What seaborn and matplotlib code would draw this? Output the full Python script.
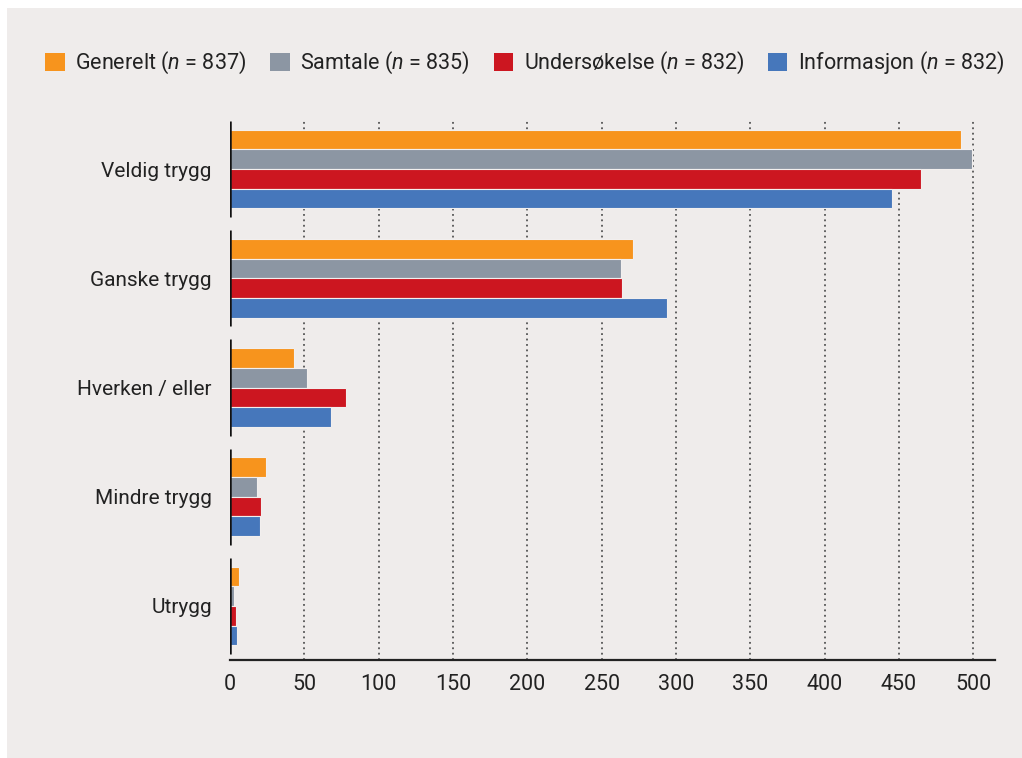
import matplotlib
matplotlib.use("Agg")
import matplotlib.pyplot as plt
from matplotlib.patches import Patch, Rectangle
import seaborn as sns
import pandas as pd

categories = ["Veldig trygg", "Ganske trygg", "Hverken / eller", "Mindre trygg", "Utrygg"]
series = ["Generelt ($n$ = 837)", "Samtale ($n$ = 835)", "Undersøkelse ($n$ = 832)", "Informasjon ($n$ = 832)"]
generelt = [492, 271, 43, 24, 6]
samtale = [499, 263, 52, 18, 3]
undersokelse = [465, 264, 78, 21, 4]
informasjon = [445, 294, 68, 20, 5]
xticks = [0, 50, 100, 150, 200, 250, 300, 350, 400, 450, 500]
colors = ["#f7941d", "#8c96a3", "#cc1620", "#4677bb"]

rows = []
for s, vals in zip(series, [generelt, samtale, undersokelse, informasjon]):
    for c, v in zip(categories, vals):
        rows.append({"kategori": c, "serie": s, "antall": v})
df = pd.DataFrame(rows)

sns.set_style("white")
plt.rcParams["font.family"] = ["Roboto", "DejaVu Sans"]
plt.rcParams["mathtext.fontset"] = "custom"
plt.rcParams["mathtext.it"] = "Roboto:italic"
plt.rcParams["mathtext.rm"] = "Roboto"

bg = "#efeceb"
fig = plt.figure(figsize=(10.22, 7.58), dpi=100, facecolor="white")
fig.patches.append(Rectangle((7 / 1022, 0), 1 - 7 / 1022, 1 - 8 / 758,
                             transform=fig.transFigure, facecolor=bg, edgecolor="none", zorder=-10))
ax = fig.add_axes([230 / 1022, 1 - 660 / 758, (995 - 230) / 1022, (660 - 120) / 758])
ax.set_facecolor(bg)

sns.barplot(data=df, y="kategori", x="antall", hue="serie", order=categories,
            hue_order=series, palette=colors, saturation=1, orient="h", width=0.72,
            edgecolor="#f2efee", linewidth=0.8, ax=ax, legend=False, zorder=3)

ax.set_xlim(0, 514.6)
ax.set_ylim(4.495, -0.45)
ax.set_xticks(xticks)
ax.set_xticklabels([str(t) for t in xticks], fontsize=15.5, color="#222222")
ax.tick_params(axis="x", length=0, pad=10)
ax.tick_params(axis="y", length=0, pad=13, labelsize=15, labelcolor="#222222")
ax.set_xlabel("")
ax.set_ylabel("")

for t in xticks[1:]:
    ax.axvline(t, color="#555555", linestyle=(0, (1, 2)), linewidth=1.3, zorder=1)

for i in range(len(categories)):
    ax.vlines(0, i - 0.44, i + 0.44, color="#111111", linewidth=1.8, zorder=4)

for s in ["top", "right", "left"]:
    ax.spines[s].set_visible(False)
ax.spines["bottom"].set_color("#222222")
ax.spines["bottom"].set_linewidth(1.6)

handles = [Patch(facecolor=c, edgecolor="none") for c in colors]
fig.legend(handles, series, loc="center", bbox_to_anchor=(525 / 1022, 1 - 63 / 758),
           ncol=4, frameon=False, fontsize=15.5, handlelength=0.9, handleheight=0.9,
           handletextpad=0.5, columnspacing=1.1, labelcolor="#222222")

fig.savefig("out.png", dpi=100, facecolor=fig.get_facecolor())
